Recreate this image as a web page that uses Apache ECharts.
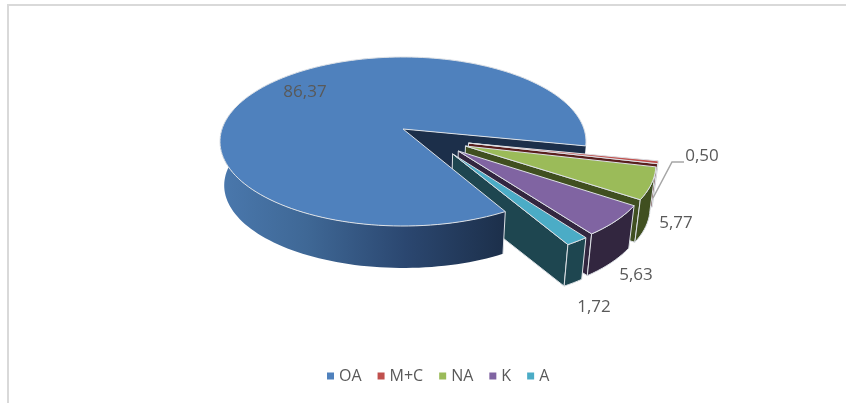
<!DOCTYPE html>
<html>
<head>
<meta charset="utf-8">
<style>html,body{margin:0;padding:0;background:#fff}#chart{width:846px;height:403px}</style>
<script src="https://cdn.jsdelivr.net/npm/echarts@6/dist/echarts.min.js"></script>
</head>
<body>
<div id="chart"></div>
<script>
// Share of each group, in percent
const categories = ['OA', 'M+C', 'NA', 'K', 'A'];
const shares = [86.37, 0.50, 5.77, 5.63, 1.72];

// Colours per group: top face and side walls
const topColors = ['#4f81bd', '#c0504d', '#9bbb59', '#8064a2', '#4bacc6'];
const wallColors = ['#1c2f4a', '#5a1f1d', '#404f20', '#32263f', '#1e4650'];

// Tilted-disc projection
const view = { cx: 403, cy: 129, rx: 181, ry: 82.65, persp: 0.148, baseScale: 0.977, baseDrop: 44.2 };
const startAngle = -60.5;   // degrees, counter-clockwise from east; slices run clockwise
const explode = 0.39;       // offset of the pulled-out slices, in disc radii

// Where the value labels sit on the page
const labelSpots = [[305, 92], [702, 156], [676, 223], [636, 275], [594, 307]];
const leaderLine = [[684, 162], [672, 162], [653, 198]];
const edge = '#dde1e6';
const total = shares.reduce((a, b) => a + b, 0);

function project(u, v, base) {
  const w = 1 + view.persp * v;
  let x = view.rx * u / w, y = -view.ry * v / w;
  if (base) { x *= view.baseScale; y = y * view.baseScale + view.baseDrop; }
  return [view.cx + x, view.cy + y];
}
const rad = d => d * Math.PI / 180;

// Angular span of slice i
function span(i) {
  let a = startAngle;
  for (let k = 0; k < i; k++) a -= shares[k] / total * 360;
  return [a, a - shares[i] / total * 360];
}
// Pull-out direction of a slice follows its mid angle, flattened
function offset(i, a0, a1) {
  if (i === 0) return [0, 0];
  const mid = (a0 + a1) / 2 + 360;
  const dir = rad(mid * 0.5 - 19);
  return [explode * Math.cos(dir), explode * Math.sin(dir)];
}
function rimPoints(a0, a1, off, base, steps) {
  const pts = [];
  for (let s = 0; s <= steps; s++) {
    const a = rad(a0 + (a1 - a0) * s / steps);
    pts.push(project(Math.cos(a) + off[0], Math.sin(a) + off[1], base));
  }
  return pts;
}
const poly = (points, fill, stroke, z2) => ({
  type: 'polygon', z2, silent: true,
  shape: { points },
  style: { fill, stroke: stroke || 'none', lineWidth: 1, lineJoin: 'round' }
});

function renderSlice(params, api) {
  const i = params.seriesIndex;
  const value = api.value(0);
  const [a0, a1] = span(i);
  const off = offset(i, a0, a1);
  const apexTop = project(off[0], off[1], false);
  const apexBase = project(off[0], off[1], true);
  const children = [];
  const steps = Math.max(8, Math.round(Math.abs(a1 - a0) / 2));
  const topRim = rimPoints(a0, a1, off, false, steps);

  if (i === 0) {
    // Wall of the cut-out, seen behind the pulled-out slices
    const endTop = topRim[topRim.length - 1];
    const endAngle = rad(a1);
    const endBase = project(Math.cos(endAngle), Math.sin(endAngle), true);
    children.push(poly([apexTop, endTop, endBase, apexBase], wallColors[0], null, 1));
    // Front wall, lit from the left
    const wallTop = rimPoints(a0, -186, off, false, 70);
    const wallBase = rimPoints(a0, -186, off, true, 70);
    children.push(poly(wallTop.concat(wallBase.reverse()), {
      type: 'linear', x: 0, y: 0, x2: 1, y2: 0,
      colorStops: [
        { offset: 0, color: '#4a78ad' },
        { offset: 0.3, color: '#3f6896' },
        { offset: 0.65, color: '#2b4770' },
        { offset: 1, color: '#1c2f4a' }
      ]
    }, null, 40));
    const firstTop = topRim[0];
    const firstBase = project(Math.cos(rad(a0)), Math.sin(rad(a0)), true);
    children.push({
      type: 'line', z2: 41, silent: true,
      shape: { x1: firstTop[0], y1: firstTop[1], x2: firstBase[0], y2: firstBase[1] },
      style: { stroke: edge, lineWidth: 1 }
    });
    children.push(poly([apexTop].concat(topRim), topColors[0], edge, 42));
  } else {
    const base = 2 + i * 5;
    const rimBase = rimPoints(a0, a1, off, true, steps);
    const last = topRim[topRim.length - 1];
    const lastBase = rimBase[rimBase.length - 1];
    children.push(poly([apexTop, last, lastBase, apexBase], wallColors[i], edge, base));
    children.push(poly(topRim.concat(rimBase.slice().reverse()), wallColors[i], edge, base + 1));
    children.push(poly([apexTop].concat(topRim), topColors[i], edge, base + 2));
  }

  // Value label, with a decimal comma
  children.push({
    type: 'text', z2: 60, silent: true,
    style: {
      text: value.toFixed(2).replace('.', ','),
      x: labelSpots[i][0], y: labelSpots[i][1],
      textAlign: 'center', textVerticalAlign: 'middle', textBaseline: 'middle',
      font: '17px "Open Sans"', fill: '#595959'
    }
  });
  return { type: 'group', children };
}

const chart = echarts.init(document.getElementById('chart'), null, { renderer: 'canvas' });
chart.setOption({
  animation: false,
  backgroundColor: '#ffffff',
  legend: {
    data: categories,
    left: 322, top: 363,
    icon: 'rect', itemWidth: 7, itemHeight: 7, itemGap: 16,
    selectedMode: false,
    textStyle: { color: '#595959', fontFamily: 'Open Sans', fontSize: 16 }
  },
  graphic: [
    { type: 'rect', shape: { x: 7, y: 4, width: 839, height: 2 }, style: { fill: '#d9d9d9' }, silent: true },
    { type: 'rect', shape: { x: 7, y: 4, width: 2, height: 399 }, style: { fill: '#d9d9d9' }, silent: true },
    { type: 'polyline', shape: { points: leaderLine }, style: { stroke: '#a6a6a6', lineWidth: 1.5, fill: 'none' }, silent: true, z: 3 }
  ],
  series: categories.map((name, i) => ({
    type: 'custom',
    name,
    coordinateSystem: 'none',
    renderItem: renderSlice,
    itemStyle: { color: topColors[i] },
    data: [[shares[i]]],
    silent: true
  }))
});
</script>
</body>
</html>
